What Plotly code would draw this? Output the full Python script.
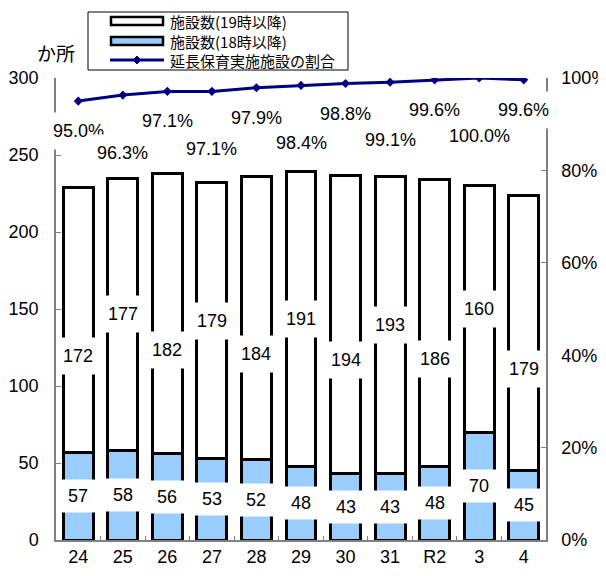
import plotly.graph_objects as go

categories = ["24", "25", "26", "27", "28", "29", "30", "31", "R2", "3", "4"]
after18 = [57, 58, 56, 53, 52, 48, 43, 43, 48, 70, 45]
after19 = [172, 177, 182, 179, 184, 191, 194, 193, 186, 160, 179]
ratio = [95.0, 96.3, 97.1, 97.1, 97.9, 98.4, 98.8, 99.1, 99.6, 100.0, 99.6]

name19 = "施設数(19時以降)"
name18 = "施設数(18時以降)"
nameRatio = "延長保育実施施設の割合"

# the page body adds an 8px margin; figure is sized/placed to compensate
OFF = 8
W, H = 598, 568
L, T = 48, 70
PW, PH = 490, 462
R = W - L - PW
B = H - T - PH


def px(x):
    return (x - OFF - L) / PW


def py(y):
    return (OFF + T + PH - y) / PH


NUM_FONT = "Liberation Sans, Arial, sans-serif"
JP_FONT = "Noto Sans CJK JP, sans-serif"
BLUE = "#99CCFF"
NAVY = "#000080"
GRAY = "#808080"

fig = go.Figure()
fig.add_bar(x=categories, y=after18, name=name18,
            marker=dict(color=BLUE, line=dict(color="black", width=3)),
            showlegend=False)
fig.add_bar(x=categories, y=after19, name=name19,
            marker=dict(color="white", line=dict(color="black", width=3)),
            showlegend=False)
fig.add_scatter(x=categories, y=[r / 100 for r in ratio], yaxis="y2",
                mode="lines+markers", name=nameRatio,
                line=dict(color=NAVY, width=3),
                marker=dict(symbol="diamond", size=7, color=NAVY),
                showlegend=False)

annotations = []
for i, c in enumerate(categories):
    annotations.append(dict(
        x=i, y=after18[i] / 2, xref="x", yref="y", text=str(after18[i]),
        showarrow=False, bgcolor="white", width=30, height=22, borderpad=5,
        font=dict(family=NUM_FONT, size=18, color="black")))
    annotations.append(dict(
        x=i, y=after18[i] + after19[i] / 2, xref="x", yref="y",
        yshift=-36 if i % 2 == 0 else 0, text=str(after19[i]),
        showarrow=False, bgcolor="white", width=30, height=24, borderpad=6,
        font=dict(family=NUM_FONT, size=18, color="black")))
    annotations.append(dict(
        x=i, y=ratio[i] / 100, xref="x", yref="y2",
        yshift=-30 if i % 2 == 0 else -58, text=f"{ratio[i]:.1f}%",
        showarrow=False, bgcolor="white", height=24, borderpad=6,
        font=dict(family=NUM_FONT, size=18, color="black")))

# unit label
annotations.append(dict(x=px(56), y=py(52), xref="paper", yref="paper",
                        xanchor="center", yanchor="middle",
                        text="か所", showarrow=False,
                        font=dict(family=JP_FONT, size=19, color="black")))

# custom legend
rows = [21, 41, 60]
legend_names = [name19, name18, nameRatio]
shapes = [dict(type="rect", xref="paper", yref="paper",
               x0=px(88), x1=px(348), y0=py(70), y1=py(12),
               line=dict(color="black", width=1), fillcolor="white")]
for k, (ry, nm) in enumerate(zip(rows, legend_names)):
    if k < 2:
        shapes.append(dict(type="rect", xref="paper", yref="paper",
                           x0=px(111), x1=px(163), y0=py(ry + 4), y1=py(ry - 4),
                           line=dict(color="black", width=2.5),
                           fillcolor="white" if k == 0 else BLUE))
    else:
        shapes.append(dict(type="line", xref="paper", yref="paper",
                           x0=px(110), x1=px(164), y0=py(ry), y1=py(ry),
                           line=dict(color=NAVY, width=3)))
        cx = 137
        path = (f"M{px(cx)},{py(ry - 4)} L{px(cx + 4)},{py(ry)} "
                f"L{px(cx)},{py(ry + 4)} L{px(cx - 4)},{py(ry)} Z")
        shapes.append(dict(type="path", xref="paper", yref="paper", path=path,
                           fillcolor=NAVY, line=dict(color=NAVY, width=1)))
    annotations.append(dict(x=px(168), y=py(ry), xref="paper", yref="paper",
                            xanchor="left", yanchor="middle", text=nm,
                            showarrow=False,
                            font=dict(family=JP_FONT, size=15, color="black")))

axis_common = dict(showline=True, linecolor=GRAY, linewidth=1.5,
                   ticks="inside", tickcolor=GRAY, showgrid=False,
                   zeroline=False,
                   tickfont=dict(family=NUM_FONT, size=18, color="black"))

fig.update_layout(
    width=W, height=H,
    margin=dict(l=L, r=R, t=T, b=B, autoexpand=False),
    barmode="stack", bargap=0.33,
    plot_bgcolor="white", paper_bgcolor="white",
    xaxis=dict(type="category", tickson="boundaries", ticklen=4,
               tickangle=0, range=[-0.5, len(categories) - 0.5],
               **axis_common),
    yaxis=dict(range=[0, 300], dtick=50, ticklen=5, ticklabelstandoff=12,
               **axis_common),
    yaxis2=dict(range=[0, 1], dtick=0.2, tickformat=".0%", overlaying="y",
                side="right", ticklen=5, ticklabelstandoff=10, **axis_common),
    annotations=annotations,
    shapes=shapes,
    showlegend=False,
)

fig.write_html("out.html")
